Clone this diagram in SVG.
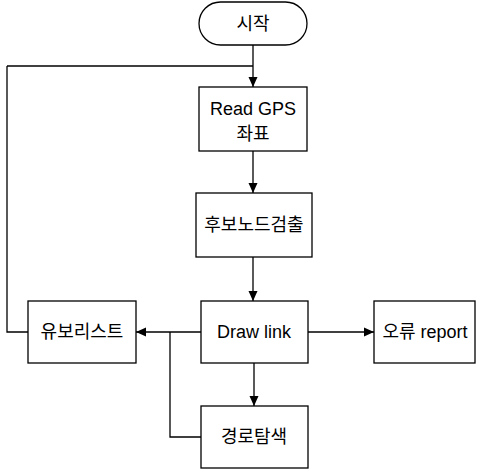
<svg xmlns="http://www.w3.org/2000/svg" width="481" height="470" viewBox="0 0 481 470">
<style>
.box{fill:#fff;stroke:#000;stroke-width:1.3}
.ln{fill:none;stroke:#000;stroke-width:1.3}
text{font-family:"Liberation Sans","Noto Sans CJK KR",sans-serif;font-size:18px;fill:#000;text-anchor:middle}
</style>
<defs>
<marker id="ar" viewBox="0 0 10 10" refX="10" refY="5" markerWidth="10" markerHeight="10" markerUnits="userSpaceOnUse" orient="auto">
<path d="M0,0.5 L10,5 L0,9.5 Z" fill="#000"/>
</marker>
</defs>
<rect width="481" height="470" fill="#fff"/>
<g id="connectors">
<path class="ln" d="M253,45 V87" marker-end="url(#ar)"/>
<path class="ln" d="M7,66 H253"/>
<path class="ln" d="M28,332 H7 V66"/>
<path class="ln" d="M253,151 V193" marker-end="url(#ar)"/>
<path class="ln" d="M253,257 V301" marker-end="url(#ar)"/>
<path class="ln" d="M308,332 H374" marker-end="url(#ar)"/>
<path class="ln" d="M201,332 H136" marker-end="url(#ar)"/>
<path class="ln" d="M170,332 V437 H201"/>
<path class="ln" d="M254,363 V406" marker-end="url(#ar)"/>
</g>
<g id="start">
<rect class="box" x="199" y="2" width="108" height="43" rx="21.5"/>
<text x="253" y="30">시작</text>
</g>
<g id="readgps">
<rect class="box" x="199" y="87" width="108" height="64"/>
<text x="253" y="115">Read GPS</text>
<text x="253" y="140">좌표</text>
</g>
<g id="candidate">
<rect class="box" x="196" y="193" width="116" height="64"/>
<text x="254" y="231">후보노드검출</text>
</g>
<g id="drawlink">
<rect class="box" x="201" y="301" width="107" height="62"/>
<text x="254" y="338">Draw link</text>
</g>
<g id="heuristic">
<rect class="box" x="28" y="301" width="108" height="62"/>
<text x="82" y="338">유보리스트</text>
</g>
<g id="error">
<rect class="box" x="374" y="301" width="101" height="62"/>
<text x="425" y="338">오류 report</text>
</g>
<g id="route">
<rect class="box" x="201" y="406" width="107" height="62"/>
<text x="254" y="443">경로탐색</text>
</g>
</svg>
